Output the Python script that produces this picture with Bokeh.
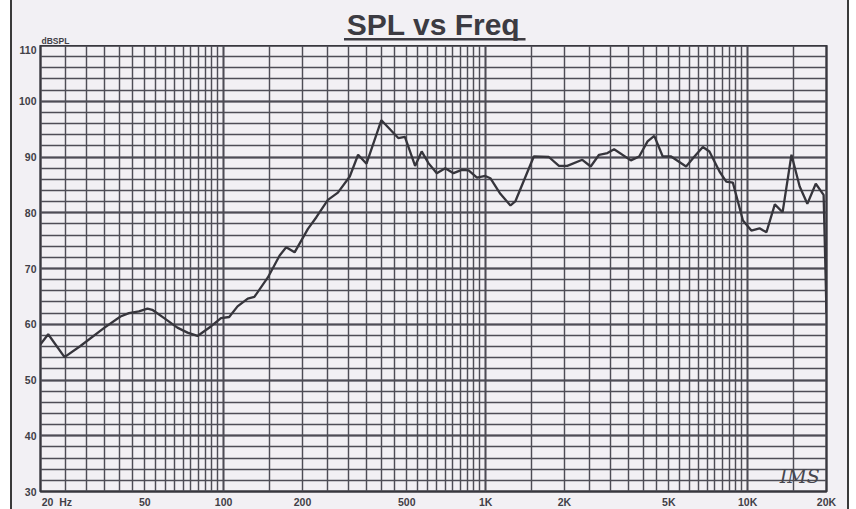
from bokeh.plotting import figure
from bokeh.models import Range1d, FixedTicker, Label
from bokeh.layouts import column
from bokeh.core.properties import value
from bokeh.embed import file_html
from bokeh.resources import INLINE

# ---- data ----
freq_hz = [20, 21.4, 24.7, 28.4, 34.9, 40.4, 43.5, 47.5, 51.2, 53.4, 59.3, 66.6, 72.8, 79.5,
           89.4, 97.7, 105, 113, 123.6, 131, 147.5, 163.4, 173.3, 186.6, 209.8, 225.9, 250,
           273, 303, 326, 351, 400, 464, 492, 538, 570, 605, 651, 701, 754, 811, 861, 927,
           997, 1042, 1138, 1244, 1300, 1527, 1743, 1905, 2049, 2339, 2518, 2710, 2917, 3093,
           3584, 3855, 4150, 4403, 4742, 5105, 5823, 6267, 6745, 7148, 7811, 8285, 8783,
           9597, 10330, 11100, 11800, 12700, 13600, 14700, 15800, 16900, 18200, 19500, 20000]
spl_db = [56.4, 58.2, 54.1, 56.1, 59.3, 61.4, 62.0, 62.3, 62.8, 62.6, 61.1, 59.4, 58.5, 57.9,
          59.6, 61.1, 61.3, 63.2, 64.6, 64.9, 68.4, 72.3, 73.8, 72.9, 77.1, 79.2, 82.3,
          83.6, 86.5, 90.4, 88.8, 96.6, 93.4, 93.6, 88.4, 91.0, 88.9, 87.1, 88.0, 87.1, 87.7,
          87.6, 86.3, 86.6, 86.2, 83.4, 81.3, 82.1, 90.1, 90.0, 88.4, 88.4, 89.5, 88.3, 90.4,
          90.7, 91.4, 89.4, 90.1, 92.8, 93.8, 90.1, 90.1, 88.3, 90.1, 91.8, 91.0, 87.4,
          85.6, 85.4, 78.6, 76.8, 77.2, 76.5, 81.5, 80.1, 90.4, 84.7, 81.6, 85.2, 83.2, 62.0]

x_tick_values = [20, 50, 100, 200, 500, 1000, 2000, 5000, 10000, 20000]
x_tick_labels = ["\u00a0" * 10 + "20\u00a0 Hz", "50", "100", "200", "500", "1K", "2K",
                 "5K", "10K", "20K"]
y_tick_values = [30, 40, 50, 60, 70, 80, 90, 100, 110]
y_minor_values = list(range(30, 111, 2))
decades = [10, 100, 1000, 10000]
grid_multipliers = [1, 1.5, 2, 2.5, 3, 3.5, 4, 4.5, 5, 5.5, 6, 6.5, 7, 7.5, 8, 8.5, 9, 9.5]
title_text = "SPL vs Freq"
unit_text = "dBSPL"
signature_text = "IMS"

major_grid = [d for d in decades if 20 <= d <= 20000]
minor_grid = sorted({round(d * m, 3) for d in decades for m in grid_multipliers
                     if 20 <= d * m <= 20000} | {20000})

BG = "#f2f0f4"
INK = "#3c3b42"
GRID = "#4e4d56"
LBL = "#414047"

W = 835
x_range = Range1d(20, 20000)

# ---- header strip (title, underline, unit) ----
top = figure(width=W, height=45, x_axis_type="log", x_range=x_range, y_range=Range1d(0, 45),
             output_backend="svg", toolbar_location=None, title=None,
             min_border_left=28, min_border_right=21, min_border_top=0, min_border_bottom=0,
             background_fill_color=BG, border_fill_color=BG)
top.axis.visible = False
top.grid.visible = False
top.outline_line_color = None
top.text(x=[632.5], y=[21.5], text=[title_text], text_align="center", text_baseline="middle",
         text_font=value("Liberation Sans"), text_font_style="bold", text_font_size="30px",
         text_color=INK)
top.line(x=[288, 1420], y=[6.2, 6.2], line_color=INK, line_width=2.6)
top.text(x=[20], y=[4.2], text=[unit_text], x_offset=1, text_align="left",
         text_baseline="middle", text_font=value("Liberation Sans"),
         text_font_style="bold", text_font_size="8.5px", text_color=LBL)

# ---- chart ----
p = figure(width=W, height=468, x_axis_type="log", x_range=x_range, y_range=Range1d(30, 110),
           output_backend="svg", toolbar_location=None, title=None,
           min_border_left=28, min_border_right=21, min_border_top=0, min_border_bottom=22,
           background_fill_color=BG, border_fill_color=BG)

p.outline_line_color = "#38373e"
p.outline_line_width = 2.4

p.xgrid.ticker = FixedTicker(ticks=major_grid, minor_ticks=minor_grid)
p.xgrid.grid_line_color = GRID
p.xgrid.grid_line_width = 1.8
p.xgrid.minor_grid_line_color = GRID
p.xgrid.minor_grid_line_width = 1.45

p.yaxis.ticker = FixedTicker(ticks=y_tick_values, minor_ticks=y_minor_values)
p.ygrid.grid_line_color = GRID
p.ygrid.grid_line_width = 1.9
p.ygrid.minor_grid_line_color = GRID
p.ygrid.minor_grid_line_width = 1.45

p.xaxis.ticker = FixedTicker(ticks=x_tick_values)
p.xaxis.major_label_overrides = {v: t for v, t in zip(x_tick_values, x_tick_labels)}
for ax in (p.xaxis[0], p.yaxis[0]):
    ax.axis_line_color = None
    ax.major_tick_line_color = None
    ax.minor_tick_line_color = None
    ax.major_tick_out = 0
    ax.major_tick_in = 0
    ax.minor_tick_out = 0
    ax.minor_tick_in = 0
    ax.major_label_text_font = "Liberation Sans"
    ax.major_label_text_font_style = "bold"
    ax.major_label_text_font_size = "10.5px"
    ax.major_label_text_color = LBL
p.xaxis.major_label_standoff = 4
p.yaxis.major_label_standoff = 4

p.line(freq_hz, spl_db, line_color="#36353c", line_width=2.3)

p.add_layout(Label(x=15800, y=30.8, text=signature_text, text_align="center",
                   text_baseline="bottom", text_font="DejaVu Serif", text_font_style="italic",
                   text_font_size="19px", text_color="#47464d"))

layout = column(top, p, spacing=0)
layout.styles = {"margin-left": "12px", "margin-top": "0px",
                 "outline": "2px solid #3a3a3a", "background-color": BG}

open("out.html", "w").write(file_html(layout, INLINE))
